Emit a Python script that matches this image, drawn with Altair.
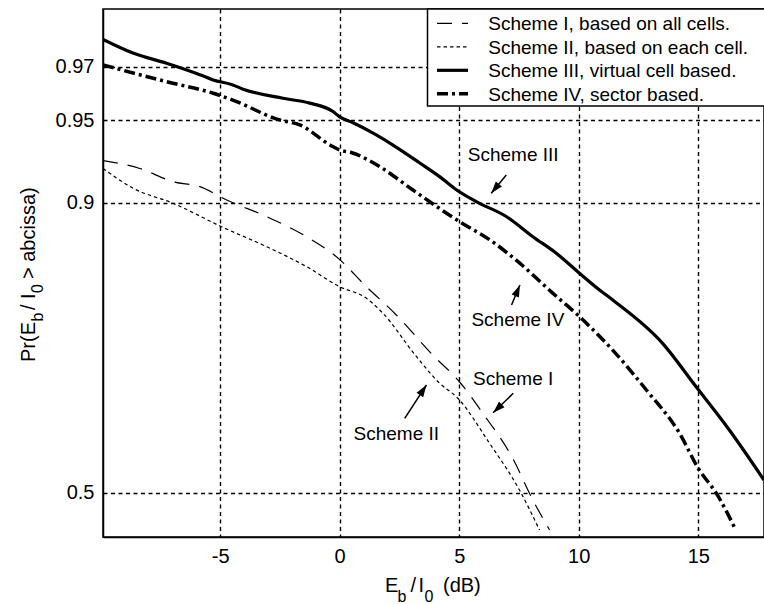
import math
from statistics import NormalDist
import altair as alt
import pandas as pd

ND = NormalDist()

# ---------------- data ----------------
names = [
    "Scheme I, based on all cells.",
    "Scheme II, based on each cell.",
    "Scheme III, virtual cell based.",
    "Scheme IV, sector based.",
]

s1_db = [-9.9, -8.36, -6.97, -5.85, -4.73, -3.06, -1.39, -0.07, 1.12, 2.37, 3.89, 5.01, 5.98, 7.23, 8.08, 8.78]
s1_p = [0.9288, 0.924, 0.9153, 0.9118, 0.902, 0.8888, 0.871, 0.85, 0.8186, 0.7838, 0.7286, 0.688, 0.6376, 0.561, 0.4872, 0.4345]

s2_db = [-9.9, -8.64, -6.97, -4.94, -3.06, -1.39, 0.0, 1.12, 1.81, 3.17, 4.18, 4.93, 6.27, 7.52, 8.36]
s2_p = [0.924, 0.9107, 0.8995, 0.88, 0.8615, 0.8411, 0.8186, 0.8048, 0.786, 0.728, 0.6856, 0.6622, 0.5863, 0.5048, 0.4345]

s3_db = [-9.9, -8.62, -7.24, -5.85, -5.29, -4.47, -4.04, -2.37, -1.25, -0.28, 0.0, 0.56, 1.40, 2.23, 3.35,
         4.18, 4.88, 5.71, 6.97, 8.08, 9.06, 10.03, 10.87, 11.41, 13.50, 14.91, 16.30, 17.75]
s3_p = [0.9774, 0.9739, 0.9711, 0.9676, 0.9659, 0.9642, 0.9627, 0.9593, 0.9574, 0.9539, 0.9516, 0.9489, 0.9439,
        0.9377, 0.9274, 0.9187, 0.9096, 0.9008, 0.8888, 0.871, 0.855, 0.8339, 0.8148, 0.803, 0.7457, 0.6801,
        0.6091, 0.5223]

s4_db = [-9.9, -7.24, -5.29, -4.47, -2.51, -1.67, -0.29, 0.0, 0.54, 1.67, 3.05, 5.01, 6.27, 7.52, 8.90, 10.03,
         11.41, 12.83, 14.21, 15.04, 15.74, 16.57]
s4_p = [0.9706, 0.9653, 0.9612, 0.9586, 0.9502, 0.9479, 0.9369, 0.935, 0.9333, 0.9252, 0.9096, 0.8845, 0.8682,
        0.845, 0.8113, 0.7817, 0.736, 0.675, 0.604, 0.540, 0.50, 0.4345]

x_ticks = [-5, 0, 5, 10, 15]
y_ticks = [0.5, 0.9, 0.95, 0.97]
y_tick_labels = ["0.5", "0.9", "0.95", "0.97"]

# annotations (text anchor = left/baseline, arrows tail -> tip), in data units
ann_text = ["Scheme III", "Scheme IV", "Scheme I", "Scheme II"]
ann_x = [5.36, 5.51, 5.58, 0.58]
ann_p = [0.9286, 0.7693, 0.6829, 0.5921]
arr_tail_x = [6.97, 7.19, 7.26, 2.72]
arr_tail_p = [0.9198, 0.7965, 0.6697, 0.6288]
arr_tip_x = [6.34, 7.54, 6.42, 3.63]
arr_tip_p = [0.9071, 0.8206, 0.6381, 0.6829]

# ---------------- styling ----------------
FONT = "Liberation Sans"
XMIN, XMAX = -9.9, 17.75
PMIN, PMAX = 0.4224, 0.9837
ZMIN, ZMAX = ND.inv_cdf(PMIN), ND.inv_cdf(PMAX)
W, H = 661, 528
LEFT, TOP = 103, 9

dashes = [[15, 10], [3.5, 3], None, [11, 4, 3, 4]]
widths = [1.2, 1.2, 3.2, 3.5]

rows = []
for name, xs, ps in zip(names, [s1_db, s2_db, s3_db, s4_db], [s1_p, s2_p, s3_p, s4_p]):
    for x, p in zip(xs, ps):
        rows.append({"series": name, "x": x, "p": p, "z": ND.inv_cdf(p)})
df = pd.DataFrame(rows)

y_z = [ND.inv_cdf(v) for v in y_ticks]
expr = "'" + y_tick_labels[-1] + "'"
for i in range(len(y_z) - 2, -1, -1):
    mid = (y_z[i] + y_z[i + 1]) / 2
    expr = f"datum.value < {mid:.4f} ? '{y_tick_labels[i]}' : ({expr})"

xscale = alt.Scale(domain=[XMIN, XMAX], nice=False, zero=False)
yscale = alt.Scale(domain=[ZMIN, ZMAX], nice=False, zero=False)
grid_kw = dict(grid=True, gridColor="black", gridDash=[4, 3.5], gridWidth=1.4, gridOpacity=1,
               ticks=False, tickSize=0, domain=True, domainColor="black", domainWidth=1.5,
               labelFont=FONT, labelFontSize=20, labelColor="black", labelPadding=9, title=None)
xaxis = alt.Axis(values=x_ticks, labelExpr="'' + datum.value", **grid_kw)
yaxis = alt.Axis(values=y_z, labelExpr=expr, **grid_kw)


def X(field="x"):
    return alt.X(f"{field}:Q", scale=xscale, axis=xaxis, title=None)


def Y(field="z"):
    return alt.Y(f"{field}:Q", scale=yscale, axis=yaxis, title=None)


layers = []
base = alt.Chart(df)
for name, dash, w in zip(names, dashes, widths):
    kw = dict(color="black", strokeWidth=w, clip=True, interpolate="monotone")
    if dash:
        kw["strokeDash"] = dash
    layers.append(
        base.transform_filter(alt.datum.series == name)
        .mark_line(**kw)
        .encode(x=X(), y=Y(), order="x:Q")
    )


def to_px(xv, pv):
    px = (xv - XMIN) / (XMAX - XMIN) * W
    py = (ZMAX - ND.inv_cdf(pv)) / (ZMAX - ZMIN) * H
    return px, py


# annotations
ann_df = pd.DataFrame({"x": ann_x, "z": [ND.inv_cdf(p) for p in ann_p], "label": ann_text})
layers.append(
    alt.Chart(ann_df).mark_text(align="left", baseline="alphabetic", font=FONT, fontSize=19, color="black")
    .encode(x=X(), y=Y(), text="label:N")
)
arr_df = pd.DataFrame({
    "x": arr_tail_x, "z": [ND.inv_cdf(p) for p in arr_tail_p],
    "x2": arr_tip_x, "z2": [ND.inv_cdf(p) for p in arr_tip_p],
})
layers.append(
    alt.Chart(arr_df).mark_rule(color="black", strokeWidth=1.5)
    .encode(x=X(), y=Y(), x2="x2:Q", y2="z2:Q")
)
angs = []
for tx, tp, hx, hp in zip(arr_tail_x, arr_tail_p, arr_tip_x, arr_tip_p):
    ax, ay = to_px(tx, tp)
    bx, by = to_px(hx, hp)
    angs.append(math.degrees(math.atan2(bx - ax, -(by - ay))) % 360)
head_df = pd.DataFrame({"x": arr_tip_x, "z": [ND.inv_cdf(p) for p in arr_tip_p], "ang": angs})
layers.append(
    alt.Chart(head_df).mark_point(shape="M0,0L-0.33,1L0.33,1Z", filled=True, color="black",
                                  opacity=1, size=576, strokeWidth=0)
    .encode(x=X(), y=Y(), angle=alt.Angle("ang:Q", scale=None))
)

# legend box
one = pd.DataFrame({"a": [0]})
layers.append(
    alt.Chart(one).mark_rect(fill="white", stroke="black", strokeWidth=1.5)
    .encode(x=alt.value(324.5), x2=alt.value(670), y=alt.value(0), y2=alt.value(97))
)
row_y = [14.3, 37.8, 61.3, 84.8]
for name, dash, w, ry in zip(names, dashes, widths, row_y):
    kw = dict(color="black", strokeWidth=w)
    if dash:
        kw["strokeDash"] = dash
    layers.append(
        alt.Chart(one).mark_rule(**kw)
        .encode(x=alt.value(334), x2=alt.value(365), y=alt.value(ry))
    )
    layers.append(
        alt.Chart(one).mark_text(text=name, align="left", baseline="alphabetic", font=FONT,
                                 fontSize=19, color="black")
        .encode(x=alt.value(385.3), y=alt.value(ry + 7))
    )


def piece(text, sx, sy, size, angle=0):
    kw = dict(text=text, align="left", baseline="alphabetic", font=FONT, fontSize=size, color="black")
    if angle:
        kw["angle"] = angle
    return alt.Chart(one).mark_text(**kw).encode(x=alt.value(sx - LEFT), y=alt.value(sy - TOP))


# x axis title: E_b / I_0 (dB)
layers += [
    piece("E", 385, 592, 20),
    piece("b", 397.5, 602, 16),
    piece("/", 410.5, 592, 20),
    piece("I", 418.5, 592, 20),
    piece("0", 424.5, 602, 16),
    piece("(dB)", 443, 592, 20),
]
# y axis title: Pr(E_b / I_0 > abcissa), rotated
layers += [
    piece("Pr(E", 35, 362, 20, 270),
    piece("b", 42.5, 321.5, 16, 270),
    piece("/", 35, 310, 20, 270),
    piece("I", 35, 299, 20, 270),
    piece("0", 42.5, 293, 16, 270),
    piece("> abcissa)", 35, 279, 20, 270),
]

chart = (
    alt.layer(*layers)
    .properties(width=W, height=H, background="white",
                padding={"left": LEFT, "top": TOP, "right": 0, "bottom": 604 - TOP - H},
                autosize=alt.AutoSizeParams(type="none"))
    .configure_view(stroke="black", strokeWidth=1.5)
)

chart.save("out.html", embed_options={"renderer": "svg", "actions": False})
